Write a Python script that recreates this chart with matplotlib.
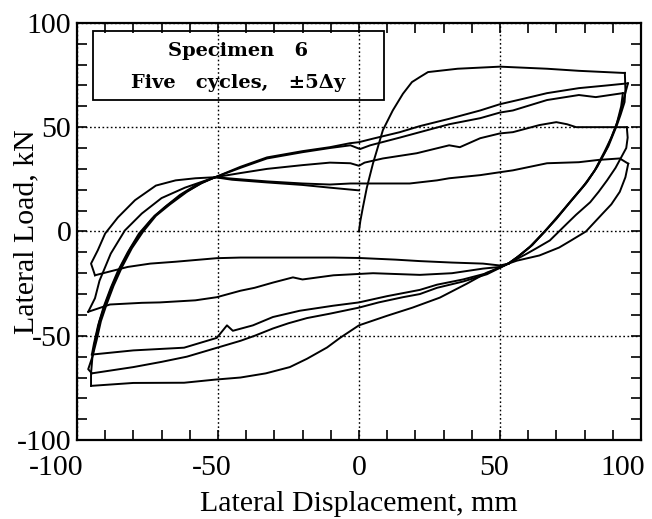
import numpy as np
import matplotlib
matplotlib.use("Agg")
import matplotlib.pyplot as plt
from matplotlib.ticker import MultipleLocator, NullFormatter
from matplotlib.patches import Rectangle

plt.rcParams['font.family'] = ['Liberation Serif', 'DejaVu Serif']
plt.rcParams['axes.unicode_minus'] = False

# lateral displacement (mm), lateral load (kN)
initial = [(0, 0), (0.5, 5), (1.4, 11.5), (2.8, 21), (5, 32.7), (6.4, 39), (8.5, 48.6),
           (12, 58), (15.6, 66), (18.8, 71.6), (21.6, 74), (24.5, 76.4), (35, 78),
           (50, 79), (66.7, 78), (78, 77), (93.6, 76), (94.3, 76)]

unload_1 = [(94.3, 76), (94.5, 68), (94.2, 62), (92.8, 56), (91.5, 51), (88.5, 41), (84.5, 31),
            (81, 24), (76, 16), (71, 8), (66.5, 1), (61.5, -6.5), (57, -11.5), (53, -15.4)]
unload_2 = [(95.4, 71), (94, 64), (92.5, 56), (91, 50), (88, 40), (84, 30), (80.5, 23),
            (75.5, 15), (70.5, 7), (66, 0), (61, -7), (56.5, -12), (53, -15.4)]
unload_3 = [(93.6, 66.3), (93, 60), (91.5, 52), (89.5, 45), (87, 38), (83.5, 29), (79.5, 21.5),
            (74.8, 14), (70, 6), (65.5, -0.5), (60.5, -7.5), (56, -12.5), (53, -15.4)]
unload_4 = [(95, 50), (95.3, 45), (94.8, 40), (93.6, 37), (91, 30.5), (88, 24.5), (85, 19),
            (82, 14), (77, 8), (73.8, 3.8), (67.7, -4.3), (63, -8), (59.6, -10.6), (53, -15.4)]
unload_5 = [(95.5, 32.5), (94.5, 26), (92.5, 19), (89.5, 13), (86.5, 8.7), (80.5, 0), (75, -4.5),
            (71, -7.7), (64, -11.5), (56, -14), (53, -15.4)]

negative_1 = [(53, -15.4), (50, -17.3), (45.4, -19.7), (38.3, -25), (28.7, -31.7), (19, -36.5),
              (10, -40.4), (0, -45), (-6.7, -51), (-11.3, -55.6), (-18.4, -61), (-24.5, -65),
              (-33, -68), (-42, -70), (-51, -71), (-62, -72.5), (-80, -72.6), (-95, -74)]
negative_2 = [(53, -15.4), (45.4, -20.5), (36.9, -24), (27.7, -27), (21.6, -30), (15.6, -31.5),
              (7, -34), (0, -36.5), (-10.3, -39.4), (-18.4, -41.5), (-25, -44), (-30.5, -46.5),
              (-37, -50), (-42, -52.4), (-51, -56), (-61, -60), (-70, -62.5), (-80, -65),
              (-94.7, -68)]
negative_3 = [(53, -15.4), (45.4, -20), (36.9, -23), (27.7, -25.5), (21.6, -28), (10, -31),
              (0, -34), (-9.2, -35.6), (-21, -38), (-30.5, -41), (-37.6, -45), (-44.7, -47.6),
              (-46.8, -45), (-50.4, -51), (-62, -55.7), (-80, -57), (-94.7, -59)]
negative_4 = [(53, -15.4), (50, -17), (44, -17.8), (33, -20), (21.6, -20.8), (5, -20), (-9, -21),
              (-20, -23), (-23.4, -22), (-30.5, -24.5), (-37, -27), (-42, -28.4), (-50.4, -31.5),
              (-58, -33), (-70.6, -34), (-77, -34.2), (-88.3, -35), (-96, -38.5)]
negative_5 = [(53, -15.4), (50, -16.3), (44, -15.4), (33, -14.9), (21.6, -14.2), (13, -13.5),
              (0, -12.7), (-9, -12.5), (-42, -12.5), (-50.4, -12.8), (-65, -14.5), (-74, -15.4),
              (-82, -17), (-93.6, -21)]

reload_1 = [(-95, -74), (-95, -68), (-94.5, -60), (-93.5, -52), (-92, -43), (-90, -35),
            (-87.5, -26), (-84.5, -17), (-81, -8), (-77, 0), (-72.5, 7.5), (-68, 12.5),
            (-62, 18.5), (-56, 23), (-51, 26)]
reload_2 = [(-94.7, -68), (-96, -66), (-94.5, -60), (-93, -52), (-91.5, -43), (-89.5, -35),
            (-87, -26), (-84, -17), (-80.5, -8), (-76.5, 0), (-72, 7.5), (-67, 13), (-61, 19),
            (-55.5, 23.5), (-51, 26)]
reload_3 = [(-94.7, -59), (-94, -54), (-92.5, -45), (-90.5, -36), (-88, -27), (-85.5, -19),
            (-82, -10), (-78, -1), (-73.5, 6), (-69, 11.5), (-63.5, 17.5), (-57.5, 22.5), (-51, 26)]
reload_4 = [(-96, -38.5), (-93.6, -32), (-92, -23.6), (-88, -10.6), (-83, 0.5), (-77, 8.6),
            (-70, 16), (-61.7, 21), (-51, 26)]
reload_5 = [(-93.6, -21), (-95, -15.4), (-92.6, -9), (-90, -1), (-85.5, 6.7), (-79.4, 15),
            (-72, 22), (-65, 24.5), (-58, 25.5), (-51, 26)]

positive_1 = [(-51, 26), (-42, 31), (-32.6, 35.5), (-20, 38.5), (-10.3, 40.4), (-3.2, 42.3),
              (0, 42.8), (5, 44.5), (14.5, 47.6), (21.6, 50.5), (32, 54), (43, 58), (50, 61),
              (58, 63.5), (66.7, 66.3), (78, 68.7), (88, 70), (95.4, 71)]
positive_2 = [(-51, 26), (-42, 30.5), (-32.6, 35), (-20, 38), (-10.3, 40), (-3, 41.3), (0.4, 39.5),
              (4, 41.3), (14.5, 45), (32, 51.4), (43, 54.3), (50, 57), (54.6, 58), (66.7, 63),
              (78, 65.4), (84, 64.4), (93.6, 66.3)]
positive_3 = [(-51, 26), (-42, 28), (-32.6, 30), (-20, 31.8), (-10.3, 33), (-3, 32.7), (0, 31.5),
              (2, 33), (8.5, 35), (20.5, 37.5), (32, 41.3), (35.8, 40.4), (43, 44.7), (50, 47),
              (54.6, 47.6), (64, 51), (70, 52.4), (73.8, 51.4), (77, 50), (85, 50), (95, 50)]
positive_4 = [(-51, 26), (-42, 25), (-32.6, 24), (-20, 23), (-10.3, 22.5), (-3, 23), (18, 23),
              (27.7, 24.5), (32, 25.5), (43, 27), (50, 28.4), (54.6, 29.3), (66.7, 32.7),
              (78, 33.2), (85, 34.3), (92.5, 35), (95.5, 32.5)]
final_reload = [(-51, 26), (-45, 24.8), (-32.6, 23.5), (-20, 22.3), (-10.3, 21), (0, 19.7)]

branches = [initial,
            unload_1, negative_1, reload_1, positive_1,
            unload_2, negative_2, reload_2, positive_2,
            unload_3, negative_3, reload_3, positive_3,
            unload_4, negative_4, reload_4, positive_4,
            unload_5, negative_5, reload_5, final_reload]

x_ticks = [-100, -50, 0, 50, 100]
x_tick_labels = ['-100', '-50', '0', '50', '100']
x_label_shift = [-21, -6, 0, -6, -18]   # the original labels sit a little left of their ticks

fig = plt.figure(figsize=(6.52, 5.19), dpi=100)
ax = fig.add_axes([0.118, 0.152, 0.865, 0.804])

for br in branches:
    xy = np.array(br)
    ax.plot(xy[:, 0], xy[:, 1], color='black', lw=1.4, solid_joinstyle='round')

ax.set_xlim(-100, 100)
ax.set_ylim(-100, 100)
ax.set_xticks(x_ticks)
ax.xaxis.set_major_formatter(NullFormatter())
ax.yaxis.set_major_locator(MultipleLocator(50))
ax.xaxis.set_minor_locator(MultipleLocator(10))
ax.yaxis.set_minor_locator(MultipleLocator(10))
ax.tick_params(which='both', direction='in', top=True, right=True, length=7, width=1.2,
               labelsize=21.5)
ax.tick_params(axis='y', pad=4)
for s in ax.spines.values():
    s.set_linewidth(1.6)
ax.grid(which='major', color='black', linestyle=(0, (1.2, 1.8)), linewidth=1.0)

for xt, lab, dx in zip(x_ticks, x_tick_labels, x_label_shift):
    ax.annotate(lab, xy=(xt, 0), xycoords=('data', 'axes fraction'), xytext=(dx, -15),
                textcoords='offset pixels', ha='center', va='top', fontsize=21.5)

ax.set_xlabel('Lateral Displacement, mm', fontsize=21.5, labelpad=33)
ax.set_ylabel('Lateral Load, kN', fontsize=21.5)
ax.yaxis.set_label_coords(-0.067, 0.5)

ax.add_patch(Rectangle((0.028, 0.815), 0.516, 0.166, transform=ax.transAxes,
                       fill=False, edgecolor='black', lw=1.3))
ax.text(0.286, 0.932, 'Specimen   6', transform=ax.transAxes, ha='center', va='center',
        fontsize=14, fontweight='bold', family='DejaVu Serif')
ax.text(0.286, 0.857, 'Five   cycles,   ±5Δy', transform=ax.transAxes, ha='center',
        va='center', fontsize=14, fontweight='bold', family='DejaVu Serif')

fig.savefig('out.png', dpi=100)
